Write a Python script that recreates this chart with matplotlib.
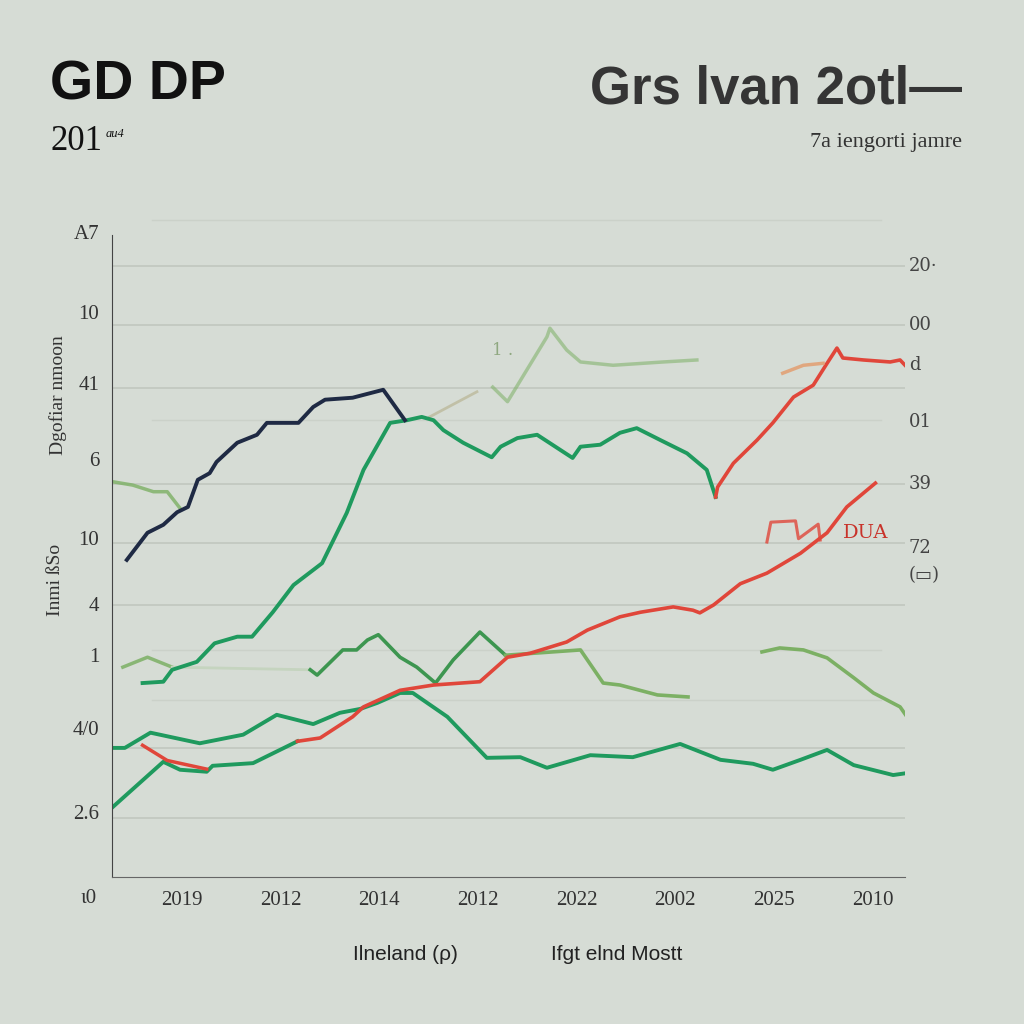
import matplotlib.pyplot as plt

# x in tick-slot units (slot 1 = first year label), y on a 0-100 chart scale
navy_x = [0.44, 0.65, 0.81, 0.95, 1.06, 1.16, 1.28, 1.35, 1.56, 1.76, 1.86, 2.18, 2.33, 2.45, 2.73, 3.04, 3.26]
navy_y = [47.9, 52.0, 53.2, 55.1, 55.9, 60.0, 61.0, 62.7, 65.6, 66.8, 68.6, 68.6, 71.0, 72.1, 72.4, 73.6, 69.0]

climb_x = [0.60, 0.81, 0.90, 1.15, 1.33, 1.56, 1.71, 1.92, 2.13, 2.42, 2.67, 2.84, 3.11, 3.28, 3.43, 3.55,
           3.65, 3.85, 4.14, 4.23, 4.40, 4.60, 4.96, 5.04, 5.24, 5.44, 5.61, 5.85, 6.12, 6.32, 6.41]
climb_y = [29.3, 29.5, 31.3, 32.5, 35.3, 36.3, 36.3, 40.0, 44.1, 47.4, 55.0, 61.5, 68.6, 69.0, 69.5, 69.0,
           67.5, 65.6, 63.4, 65.0, 66.3, 66.8, 63.3, 65.0, 65.3, 67.1, 67.8, 66.0, 64.0, 61.5, 57.4]

red_top_x = [6.41, 6.43, 6.59, 6.83, 6.99, 7.20, 7.40, 7.54, 7.64, 7.70, 7.91, 8.18, 8.28, 8.35]
red_top_y = [57.4, 58.9, 62.5, 66.0, 68.6, 72.5, 74.3, 77.6, 79.9, 78.4, 78.1, 77.8, 78.1, 77.0]

orange_x = [7.09, 7.30, 7.50]
orange_y = [76.1, 77.3, 77.6]

faint_top_x = [4.15, 4.30, 4.70, 4.73, 4.90, 5.04, 5.37, 5.88, 6.22]
faint_top_y = [74.0, 71.8, 81.6, 82.9, 79.6, 77.8, 77.3, 77.8, 78.1]

faint_left_x = [0.30, 0.50, 0.71, 0.85, 0.98]
faint_left_y = [59.7, 59.2, 58.2, 58.2, 55.7]

olive_x = [3.51, 3.99]
olive_y = [69.5, 73.3]

wave1_x = [0.40, 0.65, 0.90]
wave1_y = [31.7, 33.2, 31.7]
wave_gap_x = [0.90, 2.30]
wave_gap_y = [31.7, 31.3]
wave2_x = [2.30, 2.37, 2.63, 2.77, 2.88, 2.99, 3.21, 3.38, 3.57, 3.75, 4.02, 4.28]
wave2_y = [31.3, 30.5, 34.3, 34.3, 35.8, 36.6, 33.2, 31.7, 29.3, 32.8, 37.0, 33.5]
wave3_x = [4.28, 5.04, 5.27, 5.44, 5.82, 6.13]
wave3_y = [33.5, 34.3, 29.3, 29.0, 27.5, 27.2]
wave4_x = [6.88, 7.06, 7.30, 7.54, 7.81, 8.01, 8.28, 8.35]
wave4_y = [34.0, 34.6, 34.3, 33.1, 30.1, 27.8, 25.7, 24.2]

low_x = [0.30, 0.42, 0.68, 1.18, 1.62, 1.96, 2.33, 2.60, 2.81, 2.98, 3.21, 3.34, 3.69, 4.09,
         4.43, 4.70, 5.14, 5.57, 6.05, 6.46, 6.79, 6.99, 7.27, 7.54, 7.81, 8.21, 8.35]
low_y = [19.5, 19.5, 21.8, 20.2, 21.5, 24.5, 23.1, 24.8, 25.4, 26.3, 27.8, 27.8, 24.2, 18.0,
         18.1, 16.5, 18.4, 18.1, 20.1, 17.7, 17.1, 16.2, 17.7, 19.2, 16.9, 15.4, 15.7]

base_x = [0.30, 0.81, 0.98, 1.25, 1.31, 1.72, 2.17]
base_y = [10.6, 17.4, 16.2, 15.9, 16.8, 17.2, 20.5]

red_low_x = [2.17, 2.40, 2.73, 2.84, 3.21, 3.55, 4.02, 4.30, 4.53, 4.90, 5.11, 5.44, 5.65, 5.98,
             6.18, 6.25, 6.39, 6.66, 6.93, 7.27, 7.54, 7.74, 8.03]
red_low_y = [20.5, 21.0, 24.2, 25.7, 28.2, 29.0, 29.5, 33.2, 33.8, 35.5, 37.3, 39.3, 40.0, 40.8,
             40.3, 39.9, 41.1, 44.3, 45.9, 48.9, 52.0, 55.9, 59.5]

red_early_x = [0.60, 0.85, 1.25]
red_early_y = [19.9, 17.6, 16.3]

bracket_x = [6.93, 6.97, 7.22, 7.25, 7.45, 7.47]
bracket_y = [50.6, 53.6, 53.8, 51.1, 53.3, 50.9]

x_labels = ['2019', '2012', '2014', '2012', '2022', '2002', '2025', '2010']
x_ticks = [1, 2, 3, 4, 5, 6, 7, 8]

left_labels = ['A7', '10', '41', '6', '10', '4', '1', '4/0', '2.6']
left_vals = [97.0, 84.9, 74.3, 62.7, 50.9, 40.8, 33.1, 22.2, 9.4]

right_labels = ['20·', '00', 'd', '01', '39', '72', '(▭)']
right_vals = [92.3, 83.4, 77.3, 68.7, 59.4, 49.7, 45.6]

grid_main = [92.3, 83.4, 73.9, 59.4, 50.5, 41.1, 19.5, 8.9]
grid_faint = [99.2, 69.0, 34.3, 26.7]

bg = '#d6dcd5'
navy = '#1f2a44'
green = '#1f9a5e'
mid_green = '#3d9650'
light_green = '#7cb064'
red = '#e0463a'

fig = plt.figure(figsize=(10.24, 10.24), dpi=100, facecolor=bg)
ax = fig.add_axes([112 / 1024, 147 / 1024, 793 / 1024, 662 / 1024])
ax.set_facecolor(bg)
ax.set_xlim(0.29, 8.33)
ax.set_ylim(0, 100)

for g in grid_main:
    ax.axhline(g, color='#c3c9c1', lw=1.3, zorder=0)
for g in grid_faint:
    ax.axhline(g, xmin=0.05, xmax=0.97, color='#cbd1c9', lw=1.0, zorder=0)

ax.plot(faint_left_x, faint_left_y, color=light_green, lw=2.5, alpha=0.8)
ax.plot(faint_top_x, faint_top_y, color=light_green, lw=2.5, alpha=0.55)
ax.plot(olive_x, olive_y, color='#a8a070', lw=2, alpha=0.45)
ax.plot(wave1_x, wave1_y, color=light_green, lw=2.5, alpha=0.85)
ax.plot(wave_gap_x, wave_gap_y, color='#c5d4bf', lw=2)
ax.plot(wave2_x, wave2_y, color=mid_green, lw=2.6)
ax.plot(wave3_x, wave3_y, color=light_green, lw=2.6)
ax.plot(wave4_x, wave4_y, color=light_green, lw=2.6)
ax.plot(low_x, low_y, color=green, lw=2.8)
ax.plot(base_x, base_y, color=green, lw=2.8)
ax.plot(red_early_x, red_early_y, color=red, lw=2.5)
ax.plot(red_low_x, red_low_y, color=red, lw=2.6)
ax.plot(climb_x, climb_y, color=green, lw=2.8)
ax.plot(navy_x, navy_y, color=navy, lw=2.8)
ax.plot(red_top_x, red_top_y, color=red, lw=2.6)
ax.plot(orange_x, orange_y, color='#e39a6a', lw=2.5, alpha=0.8)
ax.plot(bracket_x, bracket_y, color=red, lw=2.2, alpha=0.8)
ax.text(7.93, 52.0, 'DUA', color='#c8322a', fontsize=14, family='DejaVu Serif',
        ha='center', va='center')
ax.text(4.25, 79.6, '1 .', color='#8fa880', fontsize=12, family='DejaVu Serif',
        ha='center', va='center')

for s in ['top', 'right']:
    ax.spines[s].set_visible(False)
ax.spines['left'].set_bounds(0, 97.0)
ax.spines['left'].set_color('#444444')
ax.spines['bottom'].set_color('#666666')
ax.set_yticks([])
ax.set_xticks(x_ticks)
ax.set_xticklabels(x_labels, family='Liberation Serif', fontsize=15, color='#333333')
ax.tick_params(axis='x', length=0, pad=10)

for lab, v in zip(left_labels, left_vals):
    ax.text(-0.016, v, lab, transform=ax.get_yaxis_transform(), ha='right', va='center',
            family='Liberation Serif', fontsize=15, color='#333333')
for lab, v in zip(right_labels, right_vals):
    ax.text(1.005, v, lab, transform=ax.get_yaxis_transform(), ha='left', va='center',
            family='DejaVu Serif', fontsize=13, color='#444444')
ax.text(-0.03, -0.033, 'ι0', transform=ax.transAxes, ha='center', va='center',
        family='Liberation Serif', fontsize=15, color='#333333')

fig.text(50 / 1024, 1 - 85 / 1024, 'GD DP', fontsize=40, fontweight='bold',
         family='Liberation Sans', color='#111111', va='center')
fig.text(50 / 1024, 1 - 142 / 1024, '201', fontsize=25, family='Liberation Serif',
         color='#111111', va='center')
fig.text(106 / 1024, 1 - 134 / 1024, 'au4', fontsize=9, family='Liberation Serif',
         style='italic', color='#111111', va='center')
fig.text(962 / 1024, 1 - 90 / 1024, 'Grs lvan 2otl—', fontsize=38, fontweight='bold',
         family='Liberation Sans', color='#353535', va='center', ha='right')
fig.text(962 / 1024, 1 - 143 / 1024, '7a iengorti jamre', fontsize=16,
         family='Liberation Serif', color='#333333', va='center', ha='right')

fig.text(58 / 1024, 1 - 395 / 1024, 'Dgofiar nmoon', fontsize=14, rotation=90,
         family='Liberation Serif', color='#333333', va='center', ha='center')
fig.text(56 / 1024, 1 - 580 / 1024, 'Inmi ßSo', fontsize=14, rotation=90,
         family='Liberation Serif', color='#333333', va='center', ha='center')

fig.text(405 / 1024, 1 - 955 / 1024, 'Ilneland (ρ)', fontsize=15,
         family='Liberation Sans', color='#222222', va='center', ha='center')
fig.text(617 / 1024, 1 - 955 / 1024, 'Ifgt elnd Mostt', fontsize=15,
         family='Liberation Sans', color='#222222', va='center', ha='center')

fig.savefig('out.png', dpi=100, facecolor=bg)
